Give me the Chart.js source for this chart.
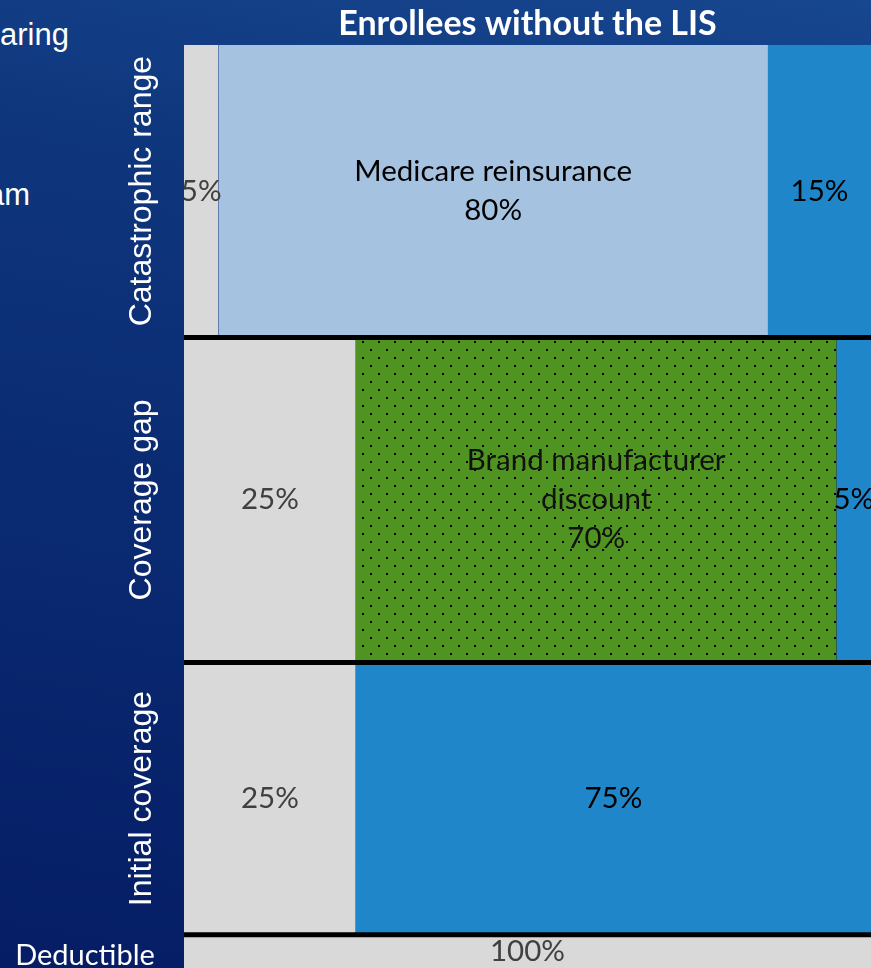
<!DOCTYPE html>
<html>
<head>
<meta charset="utf-8">
<script src="https://cdn.jsdelivr.net/npm/chart.js@4.4.1/dist/chart.umd.min.js"></script>
<style>
  html, body { margin: 0; padding: 0; }
  body {
    width: 871px; height: 968px; overflow: hidden; position: relative;
    background: linear-gradient(190deg, #17478f 0%, #0f377e 22%, #0a2b72 55%, #051d65 100%);
    font-family: "Liberation Sans", Arial, sans-serif;
  }
  .side { position: absolute; color: #fff; font-size: 31px; line-height: 31px; white-space: nowrap; }
  #wrap { position: absolute; left: 0; top: 0; width: 871px; height: 968px; }
</style>
</head>
<body>
<div class="side" style="left:0;top:19px">aring</div>
<div class="side" style="left:-13px;top:179px">am</div>
<div id="wrap"><canvas id="chart"></canvas></div>
<script>
// benefit phases, bottom to top, and where each phase starts/ends on the spending axis
const rowNames = ['Deductible', 'Initial coverage', 'Coverage gap', 'Catastrophic range'];
const rowEdges = [0, 3.6, 33.1, 68.3, 100];

// who pays what share (%) within each phase
const enrolleeShare    = [100, 25, 25, 5];
const discountShare    = [0, 0, 70, 0];
const reinsuranceShare = [0, 0, 0, 80];
const planShare        = [0, 75, 5, 15];

const discountLabel    = ['Brand manufacturer', 'discount'];
const reinsuranceLabel = ['Medicare reinsurance'];

const titleText = 'Enrollees without the LIS';

// green with a dotted texture for the manufacturer discount
function dotPattern() {
  const c = document.createElement('canvas');
  c.width = 16; c.height = 16;
  const g = c.getContext('2d');
  g.fillStyle = '#4f9421';
  g.fillRect(0, 0, 16, 16);
  g.fillStyle = '#000';
  g.fillRect(10, 5, 2, 2);
  g.fillRect(2, 13, 2, 2);
  return g.createPattern(c, 'repeat');
}

const series = [
  { values: enrolleeShare,    fill: '#d9d9d9',    text: '#404040', name: [] },
  { values: discountShare,    fill: dotPattern(), text: '#111',    name: discountLabel },
  { values: reinsuranceShare, fill: '#a5c2e0',    text: '#000',    name: reinsuranceLabel },
  { values: planShare,        fill: '#1f87c9',    text: '#000',    name: [] },
];

// one rectangle per (phase, payer) with a non-zero share
const cells = [];
rowNames.forEach((row, r) => {
  let start = 0;
  series.forEach(s => {
    const v = s.values[r];
    if (v > 0) cells.push({ row: r, from: start, to: start + v, value: v, s });
    start += v;
  });
});

// top edge of the cell as a line, filled down to the bottom of the phase
const cellSets = cells.map(c => ({
  data: [{ x: c.from, y: rowEdges[c.row + 1] }, { x: c.to, y: rowEdges[c.row + 1] }],
  fill: { value: rowEdges[c.row] },
  backgroundColor: c.s.fill,
  borderWidth: 0,
  pointRadius: 0,
  order: 2
}));

// heavy black rules between phases
const dividerSets = rowEdges.slice(1, -1).map(y => ({
  data: [{ x: 0, y }, { x: 100, y }],
  borderColor: '#000',
  borderWidth: 5,
  pointRadius: 0,
  fill: false,
  order: 1
}));

const cellLabels = {
  id: 'cellLabels',
  afterDatasetsDraw(chart) {
    const { ctx, chartArea: a, scales: { x, y } } = chart;
    ctx.save();
    ctx.beginPath();
    ctx.rect(a.left, a.top, a.right - a.left, a.bottom - a.top);
    ctx.clip();
    ctx.font = '29.5px Lato';
    ctx.textAlign = 'center';
    ctx.textBaseline = 'middle';
    cells.forEach(c => {
      const lines = [...c.s.name, c.value + '%'];
      const cx = x.getPixelForValue((c.from + c.to) / 2);
      const cy = y.getPixelForValue((rowEdges[c.row] + rowEdges[c.row + 1]) / 2);
      ctx.fillStyle = c.s.text;
      lines.forEach((t, i) => ctx.fillText(t, cx, cy + (i - (lines.length - 1) / 2) * 39));
    });
    ctx.restore();
  }
};

const rowTitles = {
  id: 'rowTitles',
  afterDraw(chart) {
    const { ctx, scales: { y } } = chart;
    ctx.save();
    ctx.fillStyle = '#fff';
    ctx.textAlign = 'center';
    ctx.textBaseline = 'middle';
    rowNames.forEach((name, r) => {
      const cy = y.getPixelForValue((rowEdges[r] + rowEdges[r + 1]) / 2);
      if (r === 0) {
        ctx.font = '29px Lato';
        ctx.fillText(name, 85, cy + 4);
        return;
      }
      ctx.save();
      ctx.translate(142, cy);
      ctx.rotate(-Math.PI / 2);
      ctx.font = '32px "Liberation Sans"';
      ctx.fillText(name, 0, 0);
      ctx.restore();
    });
    ctx.restore();
  }
};

new Chart(document.getElementById('chart'), {
  type: 'line',
  data: { datasets: [...dividerSets, ...cellSets] },
  options: {
    responsive: true,
    maintainAspectRatio: false,
    animation: false,
    layout: { padding: { left: 184, right: 0, top: 0, bottom: 0 } },
    scales: {
      x: { type: 'linear', min: 0, max: 100, display: false },
      y: { type: 'linear', min: 0, max: 100, display: false }
    },
    plugins: {
      legend: { display: false },
      tooltip: { enabled: false },
      title: {
        display: true,
        text: titleText,
        fullSize: false,
        color: '#fff',
        font: { family: 'Lato', size: 34, weight: 'bold' },
        padding: { top: 4, bottom: 0 }
      }
    }
  },
  plugins: [cellLabels, rowTitles]
});
</script>
</body>
</html>
